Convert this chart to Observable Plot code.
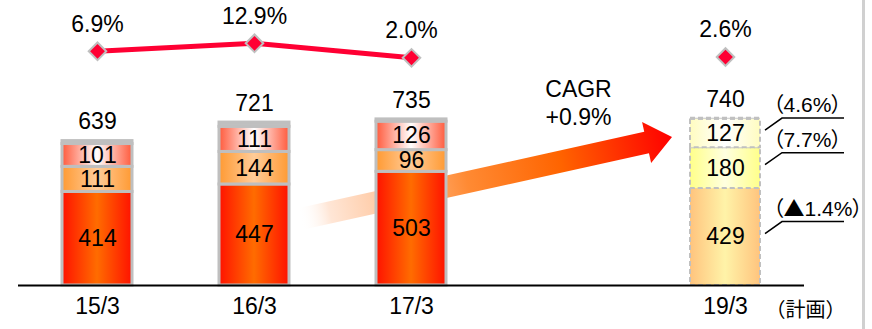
<!DOCTYPE html>
<html><head><meta charset="utf-8">
<script src="https://cdn.jsdelivr.net/npm/d3@7"></script>
<script src="https://cdn.jsdelivr.net/npm/@observablehq/plot@0.6"></script>
<style>
body{margin:0;background:#fff;}
#wrap{position:relative;width:872px;height:329px;overflow:hidden;font-family:"Liberation Sans",Arial,sans-serif;}
#wrap svg{display:block;}
#edge{position:absolute;left:862px;top:0;width:3px;height:329px;background:#d0d0d0;}
.note{font-feature-settings:"palt";}
</style></head><body>
<svg id="defs" width="0" height="0" style="position:absolute"></svg>
<div id="wrap"><div id="edge"></div></div>
<script>
// ---- data ----
const periods = ["15/3","16/3","17/3","18/3","19/3"];
const categories = ["15/3","16/3","17/3","19/3"];
const isPlan = [false,false,false,true];
const seg1 = [414,447,503,429];
const seg2 = [111,144,96,180];
const seg3 = [101,111,126,127];
const totals = [639,721,735,740];
const rates = [6.9,12.9,2.0,2.6];
const growth = ["（▲1.4%）","（7.7%）","（4.6%）"]; // 19/3, bottom -> top
const cagrLabel = "CAGR\n+0.9%";
const planNote = "（計画）";

const seriesKeys = ["s1","s2","s3","other"];
const rows = categories.flatMap((p,i) => {
  const vals = [seg1[i], seg2[i], seg3[i], totals[i]-seg1[i]-seg2[i]-seg3[i]];
  return vals.map((v,j) => ({period:p, series:seriesKeys[j], value:v, plan:isPlan[i], label: j<3 ? String(v) : null}));
});
const lineRows = categories.map((p,i) => ({period:p, rate:rates[i], plan:isPlan[i]}));

// ---- gradients ----
const grads = {
  "s1-a": ["#ff1200","#ff6c00"],
  "s2-a": ["#ff9a33","#ffcc99"],
  "s3-a": ["#ff5a3c","#ffffff"],
  "s1-p": ["#ffc47e","#fff3a8"],
  "s2-p": ["#ffff8a","#ffffe0"],
  "s3-p": ["#fffcc0","#ffffff"]
};
const defs = d3.select("#defs").append("defs");
for (const [id,[edge,center]] of Object.entries(grads)) {
  const g = defs.append("linearGradient").attr("id","g-"+id).attr("x1",0).attr("x2",1).attr("y1",0).attr("y2",0);
  g.append("stop").attr("offset",0).attr("stop-color",edge);
  g.append("stop").attr("offset",0.5).attr("stop-color",center);
  g.append("stop").attr("offset",1).attr("stop-color",edge);
}
const fillOf = d => d.series === "other" ? "#c0c0c0" : `url(#g-${d.series}-${d.plan ? "p" : "a"})`;

const xOpts = {type:"band", domain:periods, paddingInner:0.554, paddingOuter:0.28, axis:null};
const font = "Liberation Sans, Arial, sans-serif";
const cjkFont = "Liberation Sans, Noto Sans CJK JP, sans-serif";

function bwOf(x){ return typeof x.bandwidth === "function" ? x.bandwidth() : x.bandwidth; }

// CAGR arrow (decoration) drawn behind the bars
function arrowMark(index, scales) {
  const x = scales.x, y = scales.y, bw = bwOf(x);
  const x0 = x("16/3") + bw + 11, y0 = y(292);
  const x1 = x("19/3") - 18, y1 = y(655);
  const L = Math.hypot(x1-x0, y1-y0), ang = Math.atan2(y1-y0, x1-x0)*180/Math.PI;
  const hl = 26, bh = 11, hh = 21;
  const g = d3.create("svg:g");
  const gr = g.append("defs").append("linearGradient").attr("id","arrowGrad")
    .attr("gradientUnits","userSpaceOnUse").attr("x1",0).attr("x2",L).attr("y1",0).attr("y2",0);
  [[0,"#ffffff",0],[0.08,"#ffe6d6",1],[0.25,"#ffc49a",1],[0.45,"#ff8a33",1],[0.7,"#ff6400",1],[1,"#ff0000",1]]
    .forEach(([o,c,op]) => gr.append("stop").attr("offset",o).attr("stop-color",c).attr("stop-opacity",op));
  g.append("path")
    .attr("transform",`translate(${x0},${y0}) rotate(${ang})`)
    .attr("d",`M0,${-bh}L${L-hl},${-bh}L${L-hl},${-hh}L${L},0L${L-hl},${hh}L${L-hl},${bh}L0,${bh}Z`)
    .attr("fill","url(#arrowGrad)");
  return g.node();
}

// growth-rate leaders for the plan bar
function growthNotes(index, scales) {
  const x = scales.x, y = scales.y, bw = bwOf(x);
  const i = categories.indexOf("19/3");
  const xr = x("19/3") + bw;
  const vals = [seg1[i], seg2[i], seg3[i]];
  const g = d3.create("svg:g").attr("text-anchor","start");
  let base = 0;
  vals.forEach((v,j) => {
    const ym = y(base + v/2); base += v;
    g.append("path").attr("d",`M${xr+5},${ym-3}L${xr+22},${ym-15}L${xr+84},${ym-15}`)
      .attr("fill","none").attr("stroke","#000").attr("stroke-width",1.5);
    const t = g.append("text").attr("class","note").attr("x",xr+13).attr("y",ym-28).attr("dy","0.35em").attr("text-anchor","start")
      .attr("font-family",cjkFont).attr("font-size",21).attr("fill","#000");
    // put the triangle in the CJK face so it is drawn full size
    for (const part of growth[j].split(/(▲)/).filter(s => s)) {
      const ts = t.append("tspan").text(part);
      if (part === "▲") ts.attr("font-family","Noto Sans CJK JP");
    }
  });
  return g.node();
}

const linePlot = Plot.plot({
  width:872, height:75, marginTop:0, marginBottom:15, marginLeft:18, marginRight:68,
  style:{fontFamily:font, background:"transparent", overflow:"visible"},
  x:xOpts, y:{domain:[0,45], axis:null},
  marks:[
    Plot.line(lineRows.filter(d => !d.plan), {x:"period", y:"rate", stroke:"#ff0033", strokeWidth:5}),
    Plot.dot(lineRows, {x:"period", y:"rate", symbol:"square", rotate:45, r:7, fill:"#ff0033", stroke:"#bfbfbf", strokeWidth:2}),
    Plot.text(lineRows, {x:"period", y:"rate", text:d => d.rate.toFixed(1)+"%", dy:-27, fontSize:23, fill:"#000"})
  ]
});

const barPlot = Plot.plot({
  width:872, height:254, marginTop:10, marginBottom:44, marginLeft:18, marginRight:68,
  style:{fontFamily:font, background:"transparent", overflow:"visible"},
  x:xOpts, y:{domain:[0,885], axis:null},
  color:{type:"identity"},
  marks:[
    arrowMark,
    Plot.barY(rows.filter(d => !d.plan), Plot.stackY({x:"period", y:"value", fill:fillOf, stroke:"#bfbfbf", strokeWidth:3})),
    Plot.barY(rows.filter(d => d.plan), Plot.stackY({x:"period", y:"value", fill:fillOf, stroke:"#c0c0c0", strokeWidth:2, strokeDasharray:"5,3"})),
    Plot.ruleY([0], {stroke:"#000", strokeWidth:2}),
    Plot.text(rows, Plot.stackY({x:"period", y:"value", text:"label", fontSize:23, fill:"#000"})),
    Plot.text(categories, {x:d => d, y:(d,i) => totals[i], text:(d,i) => String(totals[i]), dy:-19, fontSize:23, fill:"#000"}),
    Plot.text(categories, {x:d => d, frameAnchor:"bottom", dy:28, fontSize:23, fill:"#000"}),
    Plot.text([planNote], {x:() => "19/3", frameAnchor:"bottom", dx:40, dy:31, textAnchor:"start", fontSize:20, fontFamily:"Noto Sans CJK JP", fill:"#000"}),
    Plot.text([cagrLabel], {x:() => "18/3", frameAnchor:"top", lineAnchor:"top", dx:10, dy:-8, fontSize:23, lineHeight:1.22, fill:"#000"}),
    growthNotes
  ]
});

const wrap = document.getElementById("wrap");
wrap.appendChild(linePlot);
wrap.appendChild(barPlot);
</script>
</body></html>
